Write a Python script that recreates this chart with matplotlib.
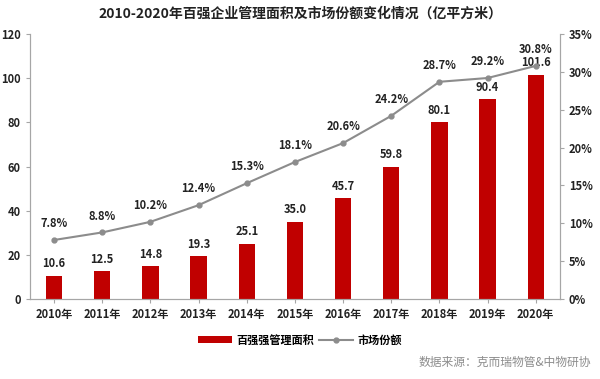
import matplotlib
matplotlib.use("Agg")
import matplotlib.pyplot as plt
import numpy as np

plt.rcParams['font.family'] = ['Noto Sans CJK SC', 'DejaVu Sans']

years = ['2010年', '2011年', '2012年', '2013年', '2014年', '2015年', '2016年',
         '2017年', '2018年', '2019年', '2020年']
area = [10.6, 12.5, 14.8, 19.3, 25.1, 35.0, 45.7, 59.8, 80.1, 90.4, 101.6]
share = [7.8, 8.8, 10.2, 12.4, 15.3, 18.1, 20.6, 24.2, 28.7, 29.2, 30.8]

fig = plt.figure(figsize=(6.0, 3.79), dpi=100)
ax = fig.add_axes([0.05, 0.211, 0.883, 0.699])
x = np.arange(len(years))
bars = ax.bar(x, area, width=0.34, color='#C00000', label='百强强管理面积', zorder=2)
for xi, v in zip(x, area):
    ax.text(xi, v + 2.5, f'{v:.1f}', ha='center', va='bottom', fontsize=8, fontweight='bold', color='#222222')
ax.set_ylim(0, 120)
ax.set_yticks(range(0, 121, 20))
ax.set_xlim(-0.5, len(years) - 0.5)
ax.set_xticks(x)
ax.set_xticklabels(years)

ax2 = ax.twinx()
ln, = ax2.plot(x, share, color='#8C8C8C', marker='o', markersize=3.5, linewidth=1.5, label='市场份额', zorder=3)
for xi, v in zip(x, share):
    ax2.text(xi, v + 1.3, f'{v:.1f}%', ha='center', va='bottom', fontsize=8, fontweight='bold', color='#222222')
ax2.set_ylim(0, 35)
ax2.set_yticks(range(0, 36, 5))
ax2.set_yticklabels([f'{t}%' for t in range(0, 36, 5)])

for a in (ax, ax2):
    a.spines['top'].set_visible(False)
    for s in ('left', 'right', 'bottom'):
        a.spines[s].set_color('#A6A6A6')
    a.tick_params(colors='#A6A6A6', labelcolor='#222222', labelsize=8, length=3)
for lab in ax.get_xticklabels() + ax.get_yticklabels() + ax2.get_yticklabels():
    lab.set_fontweight('bold')

fig.text(0.5, 0.963, '2010-2020年百强企业管理面积及市场份额变化情况（亿平方米）', ha='center', va='center',
         fontsize=10, fontweight='bold', color='#222222')
fig.legend(handles=[bars, ln], loc='center', bbox_to_anchor=(0.5, 0.103), ncol=2, frameon=False,
           fontsize=8, prop={'weight': 'bold', 'size': 8}, handlelength=3, columnspacing=0.5, handletextpad=0.4)
fig.text(0.985, 0.045, '数据来源：克而瑞物管&中物研协', ha='right', va='center', fontsize=8.5, color='#8C8C8C')

fig.savefig('out.png', dpi=100)
